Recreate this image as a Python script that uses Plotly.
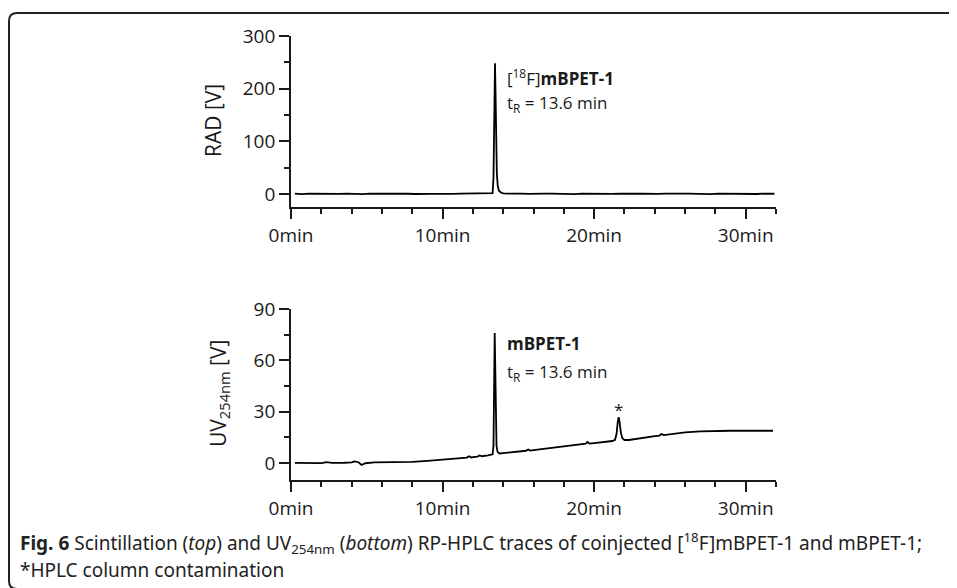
import plotly.graph_objects as go

# ---------------- data ----------------
rad_time = [0.25, 0.7, 1.2, 1.7, 2.2, 2.7, 3.2, 3.7, 4.2, 4.7, 5.2, 5.7, 6.2, 6.7, 7.2,
            7.7, 8.2, 8.7, 9.2, 9.7, 10.2, 10.7, 11.2, 11.7, 12.2, 12.7, 13.1, 13.30,
            13.36, 13.40, 13.44, 13.46, 13.49, 13.53, 13.58, 13.64, 13.72, 13.85, 14.0,
            14.3, 14.7, 15.2, 15.7, 16.2, 16.7, 17.2, 17.7, 18.2, 18.7, 19.2, 19.7, 20.2,
            20.7, 21.2, 21.7, 22.2, 22.7, 23.2, 23.7, 24.2, 24.7, 25.2, 25.7, 26.2, 26.7,
            27.2, 27.7, 28.2, 28.7, 29.2, 29.7, 30.2, 30.7, 31.2, 31.9]
rad_volt = [0.3, -0.4, 0.5, 0.1, -0.3, 0.4, -0.2, 0.6, 0.0, -0.4, 0.3, 0.5, -0.1, -0.5,
            0.4, 0.2, -0.3, 0.5, 0.1, -0.2, 0.6, 0.0, 0.4, 0.7, 0.2, 0.5, 0.8, 1.2,
            30.0, 140.0, 235.0, 248.0, 200.0, 100.0, 40.0, 15.0, 6.0, 2.5, 1.0,
            0.3, -0.3, 0.4, 0.0, -0.4, 0.3, 0.5, -0.2, 0.2, -0.4, 0.4, 0.1, -0.3,
            0.5, -0.1, 0.3, -0.4, 0.2, 0.5, -0.2, 0.0, 0.4, -0.3, 0.3, 0.6, -0.1,
            0.2, -0.4, 0.4, 0.1, -0.2, 0.5, 0.0, -0.3, 0.4, 0.2]

uv_time = [0.25, 1.0, 2.0, 2.35, 2.7, 3.5, 4.0, 4.2, 4.45, 4.66, 4.9, 5.5, 6.0, 7.0, 8.0,
           9.0, 10.0, 11.0, 11.6, 11.75, 11.9, 12.0, 12.3, 12.45, 12.6, 13.0, 13.30,
           13.36, 13.40, 13.44, 13.47, 13.51, 13.56, 13.63, 13.75, 14.0, 14.5, 15.0, 15.5,
           15.65, 15.8, 16.0, 17.0, 18.0, 19.0, 19.45, 19.55, 19.7, 20.0, 21.0, 21.2, 21.38,
           21.48, 21.56, 21.62, 21.68, 21.76, 21.86, 22.0, 22.3, 23.0, 24.0, 24.3, 24.45,
           24.6, 25.0, 26.0, 27.0, 28.0, 29.0, 30.0, 31.0, 31.8]
uv_volt = [0.0, 0.0, -0.1, 0.4, 0.0, 0.1, 0.3, 0.9, 0.4, -1.2, -0.2, 0.3, 0.3, 0.2, 0.6,
           1.2, 2.0, 2.8, 3.1, 3.9, 3.2, 3.4, 3.7, 4.4, 3.9, 4.4, 5.0,
           10.0, 40.0, 76.0, 60.0, 25.0, 10.0, 6.5, 5.5, 5.7, 6.1, 6.6, 7.1,
           7.8, 7.2, 7.5, 8.6, 9.8, 10.8, 11.2, 12.2, 11.3, 11.6, 12.4, 12.8, 13.5,
           17.0, 24.0, 26.8, 24.0, 18.0, 14.5, 13.4, 13.4, 14.5, 15.7, 16.0, 16.9,
           16.3, 16.8, 17.8, 18.4, 18.7, 18.8, 18.8, 18.8, 18.8]

x_ticks = [0, 10, 20, 30]
x_tick_labels = ["0min", "10min", "20min", "30min"]
rad_ticks = [0, 100, 200, 300]
uv_ticks = [0, 30, 60, 90]

# ---------------- figure ----------------
W, H = 957, 588
OFF = 8  # page body margin
INK = "#1a1a1a"
TICKFONT = dict(family="Open Sans", size=19, color=INK)


def px_x(p):
    return (p - OFF) / W


def px_y(p):
    return 1 - (p - OFF) / H


fig = go.Figure()
fig.add_trace(go.Scatter(x=rad_time, y=rad_volt, mode="lines",
                         line=dict(color="black", width=1.8), xaxis="x", yaxis="y",
                         showlegend=False, hoverinfo="skip"))
fig.add_trace(go.Scatter(x=uv_time, y=uv_volt, mode="lines",
                         line=dict(color="black", width=1.8), xaxis="x2", yaxis="y2",
                         showlegend=False, hoverinfo="skip"))

xdom = [px_x(291), px_x(776)]
xax = dict(domain=xdom, range=[0, 32], tickvals=x_ticks, ticktext=x_tick_labels,
           ticks="outside", ticklen=10, tickwidth=1.8, tickcolor=INK, automargin=False,
           showline=True, linecolor=INK, linewidth=1.8, showgrid=False, zeroline=False,
           tickfont=TICKFONT,
           minor=dict(dtick=2, tick0=0, ticks="outside", ticklen=5, tickwidth=1.8,
                      tickcolor=INK, showgrid=False))
yax_common = dict(ticks="outside", ticklen=10, tickwidth=1.8, tickcolor=INK,
                  showline=True, linecolor=INK, linewidth=1.8, showgrid=False,
                  zeroline=False, tickfont=TICKFONT, automargin=False)

fig.update_layout(
    width=W, height=H,
    margin=dict(l=0, r=0, t=0, b=0, autoexpand=False),
    paper_bgcolor="white", plot_bgcolor="white",
    xaxis=dict(**xax, anchor="y"),
    yaxis=dict(**yax_common, domain=[px_y(207), px_y(36)], range=[-25, 300],
               tickvals=rad_ticks, anchor="x",
               minor=dict(dtick=50, tick0=0, ticks="outside", ticklen=5, tickwidth=1.8,
                          tickcolor=INK, showgrid=False)),
    xaxis2=dict(**xax, anchor="y2"),
    yaxis2=dict(**yax_common, domain=[px_y(480), px_y(309)], range=[-10, 90],
                tickvals=uv_ticks, anchor="x2",
                minor=dict(dtick=15, tick0=0, ticks="outside", ticklen=5, tickwidth=1.8,
                           tickcolor=INK, showgrid=False)),
)

ann_font = dict(family="Open Sans", size=17, color=INK)
cap_font = dict(family="Liberation Sans Narrow, Noto Sans", size=19, color="#222222")
annotations = [
    dict(text="[<sup>18</sup>F]<b>mBPET-1</b>", x=14.1, y=222, xref="x", yref="y",
         xanchor="left", yanchor="middle", showarrow=False, font=ann_font),
    dict(text="t<sub>R</sub> = 13.6 min", x=14.1, y=172, xref="x", yref="y",
         xanchor="left", yanchor="middle", showarrow=False, font=ann_font),
    dict(text="<b>mBPET-1</b>", x=14.1, y=70, xref="x2", yref="y2",
         xanchor="left", yanchor="middle", showarrow=False, font=ann_font),
    dict(text="t<sub>R</sub> = 13.6 min", x=14.1, y=53, xref="x2", yref="y2",
         xanchor="left", yanchor="middle", showarrow=False, font=ann_font),
    dict(text="*", x=21.6, y=31, xref="x2", yref="y2",
         xanchor="center", yanchor="middle", showarrow=False, font=ann_font),
    dict(text="RAD [V]", x=px_x(213), y=px_y(121), xref="paper", yref="paper",
         textangle=-90, xanchor="center", yanchor="middle", showarrow=False,
         font=dict(family="Open Sans", size=21, color=INK)),
    dict(text="UV<sub>254nm</sub> [V]", x=px_x(219), y=px_y(394), xref="paper", yref="paper",
         textangle=-90, xanchor="center", yanchor="middle", showarrow=False,
         font=dict(family="Open Sans", size=21, color=INK)),
    dict(text="<b>Fig. 6</b> Scintillation (<i>top</i>) and UV<sub>254nm</sub> (<i>bottom</i>) "
              "RP-HPLC traces of coinjected [<sup>18</sup>F]mBPET-1 and mBPET-1;",
         x=px_x(18), y=px_y(543), xref="paper", yref="paper",
         xanchor="left", yanchor="middle", showarrow=False, font=cap_font),
    dict(text="*HPLC column contamination",
         x=px_x(18), y=px_y(570), xref="paper", yref="paper",
         xanchor="left", yanchor="middle", showarrow=False, font=cap_font),
]
fig.update_layout(annotations=annotations)

# rounded frame around the figure (top-left corner visible)
frame = (f"M 1.0,{px_y(13)} L {px_x(17)},{px_y(13)} Q {px_x(9)},{px_y(13)} {px_x(9)},{px_y(21)} "
         f"L {px_x(9)},{px_y(581)} Q {px_x(9)},{px_y(589)} {px_x(17)},{px_y(589)} L 1.0,{px_y(589)}")
fig.add_shape(type="path", path=frame, xref="paper", yref="paper",
              line=dict(color="#222222", width=2))

fig.write_html("out.html")
